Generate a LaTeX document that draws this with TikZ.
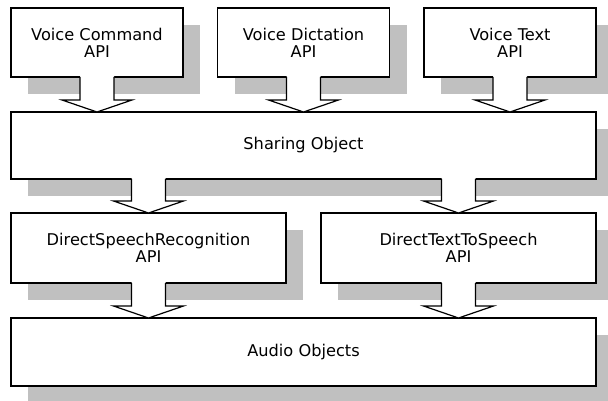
\documentclass[tikz,border=0pt]{standalone}
\usepackage{fontspec}
\setmainfont{DejaVu Sans}
\usetikzlibrary{shadows}
\definecolor{shadowgray}{RGB}{192,192,192}

\begin{document}
\begin{tikzpicture}[x=0.5pt,y=-0.5pt,
  box/.style={draw, line width=0.6pt, fill=white, align=center,
    anchor=north west, inner sep=0pt, outer sep=0pt,
    font=\fontsize{8.1}{8.5}\selectfont,
    drop shadow={shadow xshift=8.5pt, shadow yshift=-8.5pt,
                 fill=shadowgray, opacity=1}},
  apibox/.style={box, minimum width=86pt, minimum height=34.5pt},
  enginebox/.style={box, minimum width=137.5pt, minimum height=35pt},
  layerbox/.style={box, minimum width=292.5pt, minimum height=34pt}]
% Hollow arrow: #1 = start on a lower edge, #2 = tip on an upper edge
\def\Feed#1#2{%
  \fill[white] ([shift={(-17,-1)}]#1) -- ([shift={(-17,-12)}]#2)
    -- ([shift={(-35,-12)}]#2) -- (#2) -- ([shift={(35,-12)}]#2)
    -- ([shift={(17,-12)}]#2) -- ([shift={(17,-1)}]#1) -- cycle;
  \draw[line width=0.6pt] ([shift={(-17,0)}]#1) -- ([shift={(-17,-12)}]#2)
    -- ([shift={(-35,-12)}]#2) -- (#2) -- ([shift={(35,-12)}]#2)
    -- ([shift={(17,-12)}]#2) -- ([shift={(17,0)}]#1);}

\useasboundingbox (0,0) rectangle (608,400);

% Layers
\path (11,8)    node[apibox] (vcmd)  {Voice Command\\API}
      (217.5,8) node[apibox] (vdict) {Voice Dictation\\API}
      (424,8)   node[apibox] (vtext) {Voice Text\\API};
\path (11,112)  node[layerbox, minimum height=33.5pt] (share) {Sharing Object};
\path (11,213)  node[enginebox] (dsr)  {DirectSpeechRecognition\\API}
      (321,213) node[enginebox] (dtts) {DirectTextToSpeech\\API};
\path (11,318)  node[layerbox] (audio) {Audio Objects};

% Arrow ends
\coordinate (vcmdTip)  at (vcmd.south |- share.north);
\coordinate (vdictTip) at (vdict.south |- share.north);
\coordinate (vtextTip) at (vtext.south |- share.north);
\coordinate (dsrTail)  at (dsr.north |- share.south);
\coordinate (dttsTail) at (dtts.north |- share.south);
\coordinate (dsrTip)   at (dsr.south |- audio.north);
\coordinate (dttsTip)  at (dtts.south |- audio.north);

% Arrows
\Feed{vcmd.south}{vcmdTip}
\Feed{vdict.south}{vdictTip}
\Feed{vtext.south}{vtextTip}
\Feed{dsrTail}{dsr.north}
\Feed{dttsTail}{dtts.north}
\Feed{dsr.south}{dsrTip}
\Feed{dtts.south}{dttsTip}

\end{tikzpicture}
\end{document}
